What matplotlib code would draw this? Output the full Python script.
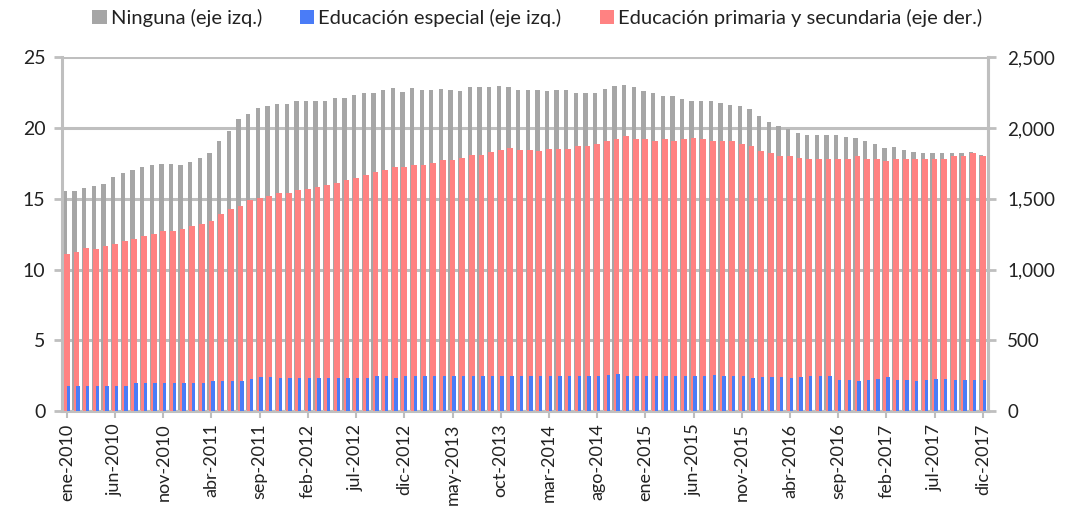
import matplotlib.pyplot as plt
import numpy as np

plt.rcParams["font.family"] = ["Lato", "DejaVu Sans"]

# monthly series, ene-2010 .. dic-2017
meses = ["ene", "feb", "mar", "abr", "may", "jun", "jul", "ago", "sep", "oct", "nov", "dic"]
periodos = [f"{m}-{a}" for a in range(2010, 2018) for m in meses]

ninguna = [
    15.56, 15.52, 15.73, 15.87, 16.06, 16.55, 16.79, 17.02, 17.26, 17.42, 17.45, 17.45,
    17.38, 17.61, 17.87, 18.20, 19.09, 19.80, 20.62, 21.02, 21.40, 21.56, 21.73, 21.68,
    21.93, 21.93, 21.93, 21.93, 22.12, 22.12, 22.35, 22.45, 22.45, 22.66, 22.82, 22.52,
    22.82, 22.66, 22.66, 22.75, 22.66, 22.61, 22.87, 22.87, 22.89, 22.94, 22.87, 22.66,
    22.66, 22.66, 22.59, 22.66, 22.66, 22.47, 22.45, 22.47, 22.78, 22.94, 23.06, 22.89,
    22.64, 22.47, 22.28, 22.28, 22.07, 21.93, 21.88, 21.93, 21.74, 21.65, 21.58, 21.36,
    20.87, 20.39, 20.13, 19.94, 19.68, 19.54, 19.54, 19.54, 19.49, 19.37, 19.30, 19.07,
    18.90, 18.62, 18.67, 18.48, 18.27, 18.24, 18.24, 18.20, 18.20, 18.24, 18.31, 18.10,
]
especial = [
    1.75, 1.75, 1.75, 1.80, 1.80, 1.75, 1.80, 1.95, 2.00, 2.00, 2.00, 1.95,
    1.95, 1.95, 2.00, 2.15, 2.10, 2.10, 2.10, 2.25, 2.40, 2.40, 2.30, 2.30,
    2.30, 2.30, 2.35, 2.35, 2.30, 2.30, 2.35, 2.35, 2.50, 2.45, 2.30, 2.45,
    2.50, 2.50, 2.45, 2.45, 2.45, 2.45, 2.50, 2.50, 2.45, 2.45, 2.45, 2.45,
    2.45, 2.50, 2.50, 2.45, 2.45, 2.50, 2.50, 2.50, 2.55, 2.60, 2.50, 2.45,
    2.45, 2.50, 2.50, 2.45, 2.45, 2.45, 2.50, 2.55, 2.50, 2.45, 2.45, 2.35,
    2.40, 2.40, 2.40, 2.35, 2.40, 2.45, 2.45, 2.45, 2.20, 2.20, 2.15, 2.20,
    2.25, 2.40, 2.20, 2.20, 2.15, 2.20, 2.25, 2.25, 2.20, 2.20, 2.20, 2.20,
]
primaria_secundaria = [
    1109, 1126, 1149, 1145, 1164, 1180, 1199, 1215, 1234, 1251, 1269, 1269,
    1288, 1305, 1324, 1340, 1392, 1429, 1446, 1488, 1502, 1516, 1538, 1540,
    1561, 1566, 1580, 1596, 1612, 1631, 1650, 1667, 1686, 1702, 1721, 1721,
    1737, 1737, 1756, 1773, 1773, 1791, 1808, 1808, 1831, 1848, 1862, 1848,
    1842, 1835, 1854, 1854, 1854, 1871, 1871, 1889, 1906, 1922, 1941, 1922,
    1922, 1906, 1922, 1906, 1922, 1929, 1922, 1906, 1906, 1906, 1889, 1871,
    1840, 1824, 1805, 1800, 1790, 1784, 1784, 1784, 1784, 1784, 1800, 1784,
    1784, 1765, 1784, 1784, 1784, 1784, 1784, 1784, 1800, 1800, 1824, 1800,
]

c_gray = "#a6a6a6"
c_blue = "#4a7cf7"
c_red = "#ff8282"
c_grid = "#bfbfbf"

x = np.arange(len(periodos))
ratio = 100.0  # eje der. / eje izq.

fig = plt.figure(figsize=(10.7, 5.3), dpi=100)
ax = fig.add_axes((0.058, 0.2245, 0.865, 0.6675))

ax.bar(x - 0.2, ninguna, width=0.45, color=c_gray, zorder=2,
       label="Ninguna (eje izq.)")
ax.bar(x, np.array(primaria_secundaria) / ratio, width=0.6,
       color=c_red, zorder=3)
ax.bar(x + 0.15, especial, width=0.35, color=c_blue, zorder=4,
       label="Educación especial (eje izq.)")
# legend proxy for the right-axis series
ax.bar([0], [0], color=c_red, label="Educación primaria y secundaria (eje der.)")

ax.set_xlim(-0.5, len(x) - 0.5)
ax.set_ylim(0, 25)
ax.set_yticks([0, 5, 10, 15, 20, 25])
ax.grid(axis="y", color=c_grid, linewidth=2.2, zorder=0)
ax.set_axisbelow(True)

ax.set_xticks(x[::5])
ax.set_xticklabels(periodos[::5], rotation=90, fontsize=13, color="#222222")
ax.tick_params(axis="x", length=5, width=1.5, color=c_grid, pad=4)
ax.tick_params(axis="y", length=6, width=2, color=c_grid, labelsize=14,
               labelcolor="#222222", pad=6)

ax.spines["top"].set_visible(False)
for side in ["left", "bottom", "right"]:
    ax.spines[side].set_color(c_grid)
    ax.spines[side].set_linewidth(2.2)

sec = ax.secondary_yaxis("right", functions=(lambda v: v * ratio, lambda v: v / ratio))
sec.set_yticks([0, 500, 1000, 1500, 2000, 2500])
sec.set_yticklabels(["0", "500", "1,000", "1,500", "2,000", "2,500"])
sec.tick_params(length=6, width=2, color=c_grid, labelsize=13.5,
                labelcolor="#222222", pad=8)
sec.spines["right"].set_color(c_grid)
sec.spines["right"].set_linewidth(2.2)

handles, labels = ax.get_legend_handles_labels()
fig.legend(handles, labels, loc="center", bbox_to_anchor=(0.502, 0.966),
           ncol=3, frameon=False, fontsize=14.5, handlelength=0.7,
           handleheight=0.7, handletextpad=0.2, columnspacing=1.9,
           labelcolor="#222222")

fig.savefig("out.png", dpi=100)
plt.close(fig)
